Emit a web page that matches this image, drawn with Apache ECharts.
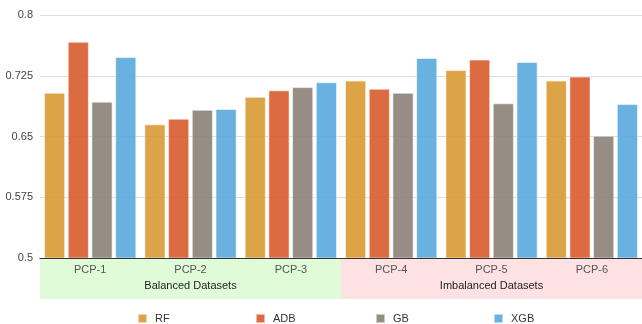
<!DOCTYPE html>
<html><head><meta charset="utf-8">
<script src="https://cdn.jsdelivr.net/npm/echarts@6/dist/echarts.min.js"></script>
<style>html,body{margin:0;padding:0;background:#fff}#c{width:642px;height:324px}</style>
</head><body><div id="c"></div>
<script>
const categories = ['PCP-1','PCP-2','PCP-3','PCP-4','PCP-5','PCP-6'];
const groups = ['Balanced Datasets','Imbalanced Datasets'];
const groupSpan = [1, 1];
const seriesNames = ['RF','ADB','GB','XGB'];
const RF  = [0.704, 0.665, 0.699, 0.719, 0.732, 0.719];
const ADB = [0.767, 0.672, 0.707, 0.709, 0.745, 0.724];
const GB  = [0.693, 0.683, 0.711, 0.704, 0.691, 0.651];
const XGB = [0.748, 0.684, 0.717, 0.747, 0.742, 0.690];
const yTicks = [0.5, 0.575, 0.65, 0.725, 0.8];

const colors = ['#D99A33','#D95B2E','#8B8177','#58A9DE'];
const bandColors = ['#E0FBD8','#FDE1E3'];
const font = 'Liberation Sans, Arial, sans-serif';
const vals = [RF, ADB, GB, XGB];
const legendLeft = [137, 255, 375, 493];

const chart = echarts.init(document.getElementById('c'), null, {renderer:'canvas'});
chart.setOption({
  animation: false,
  textStyle: {fontFamily: font},
  grid: [
    {left: 40, right: 0, top: 15, bottom: 66},
    {left: 40, right: 0, top: 258, bottom: 25}
  ],
  legend: seriesNames.map((n, i) => ({
    data: [n], left: legendLeft[i], top: 313, padding: 0,
    itemWidth: 9, itemHeight: 9, icon: 'rect',
    textStyle: {fontSize: 11, color: '#333', fontFamily: font, padding: [0,0,0,3]}
  })),
  xAxis: [
    {type: 'category', data: categories, gridIndex: 0, z: 10,
     axisLine: {show: true, lineStyle: {color: '#333', width: 1.2}},
     axisTick: {show: false},
     axisLabel: {color: '#555', fontSize: 11, margin: 6}},
    {type: 'category', data: groups, gridIndex: 1, show: false}
  ],
  yAxis: [
    {type: 'value', min: 0.5, max: 0.8, interval: 0.075, gridIndex: 0,
     axisLine: {show: false}, axisTick: {show: false},
     axisLabel: {color: '#444', fontSize: 11, margin: 7,
       formatter: v => String(parseFloat(v.toFixed(3)))},
     splitLine: {lineStyle: {color: '#ddd', width: 1}}},
    {type: 'value', min: 0, max: 1, gridIndex: 1, show: false}
  ],
  series: seriesNames.map((n, i) => ({
    name: n, type: 'bar', data: vals[i], xAxisIndex: 0, yAxisIndex: 0,
    barGap: '12%', barCategoryGap: '8%', z: 3,
    itemStyle: {color: colors[i], opacity: 0.9, borderColor: 'rgba(255,255,255,0.6)', borderWidth: 1}
  })).concat([{
    name: 'band', type: 'bar', xAxisIndex: 1, yAxisIndex: 1,
    barWidth: '100%', z: 0, silent: true,
    data: groupSpan.map((v, i) => ({value: v, itemStyle: {color: bandColors[i]}})),
    label: {show: true, position: 'insideBottom', distance: 8,
      formatter: p => p.name, color: '#222', fontSize: 11, fontFamily: font}
  }])
});
</script></body></html>
